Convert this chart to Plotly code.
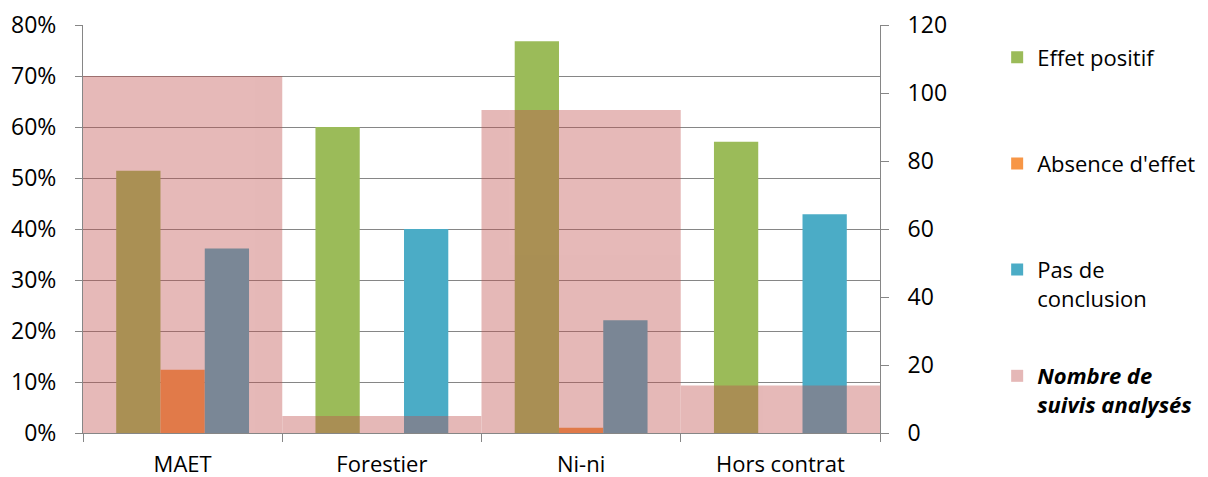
import plotly.graph_objects as go

categories = ["MAET", "Forestier", "Ni-ni", "Hors contrat"]
effet_positif = [51.4, 60.0, 76.8, 57.1]
absence_effet = [12.4, 0.0, 1.05, 0.0]
pas_conclusion = [36.2, 40.0, 22.1, 42.9]
nombre_suivis = [105, 5, 95, 14]

FONT = "Open Sans"
FS = 23
GRID = "#868686"
w = 2 / 9

fig = go.Figure()
fig.add_trace(go.Bar(x=categories, y=effet_positif, name="Effet positif<br> ",
                     marker=dict(color="#9BBB59", line=dict(width=0)),
                     width=w, offset=-1.5 * w, legendgroup="a", yaxis="y"))
fig.add_trace(go.Bar(x=categories, y=absence_effet, name="Absence d'effet<br> ",
                     marker=dict(color="#F79646", line=dict(width=0)),
                     width=w, offset=-0.5 * w, legendgroup="b", yaxis="y"))
fig.add_trace(go.Bar(x=categories, y=pas_conclusion, name="Pas de<br>conclusion",
                     marker=dict(color="#4BACC6", line=dict(width=0)),
                     width=w, offset=0.5 * w, legendgroup="c", yaxis="y"))
fig.add_trace(go.Bar(x=categories, y=nombre_suivis,
                     name="<b><i>Nombre de<br>suivis analysés</i></b>",
                     marker=dict(color="#C0504D", line=dict(width=0)),
                     opacity=0.4, width=1.0, offset=-0.5, legendgroup="d", yaxis="y2"))

tf = dict(family=FONT, size=FS, color="#000")
fig.update_layout(
    width=1200, height=469,
    margin=dict(l=75, r=328, t=17, b=44, autoexpand=False),
    paper_bgcolor="white", plot_bgcolor="white",
    barmode="overlay",
    font=dict(family=FONT, size=FS, color="#000000"),
    xaxis=dict(type="category", tickson="boundaries", ticks="outside", ticklen=8,
               tickcolor=GRID, showline=True, linecolor=GRID, linewidth=1,
               showgrid=False, automargin=False, ticklabelstandoff=12,
               tickfont=dict(family=FONT, size=22, color="#000")),
    yaxis=dict(range=[0, 80], dtick=10, ticksuffix="%", showgrid=True,
               gridcolor=GRID, gridwidth=1, showline=True, linecolor=GRID,
               ticks="outside", ticklen=7, tickcolor=GRID, zeroline=False,
               automargin=False, ticklabelstandoff=14, tickfont=tf),
    yaxis2=dict(range=[0, 120], dtick=20, overlaying="y", side="right",
                showgrid=False, showline=True, linecolor=GRID, ticks="outside",
                ticklen=8, tickcolor=GRID, zeroline=False,
                automargin=False, ticklabelstandoff=14, tickfont=tf),
    legend=dict(x=1.147, xanchor="left", y=0.972, yanchor="top",
                traceorder="grouped", tracegroupgap=46, valign="top",
                font=dict(family=FONT, size=22, color="#000"),
                bgcolor="rgba(0,0,0,0)"),
)

fig.write_html("out.html")
